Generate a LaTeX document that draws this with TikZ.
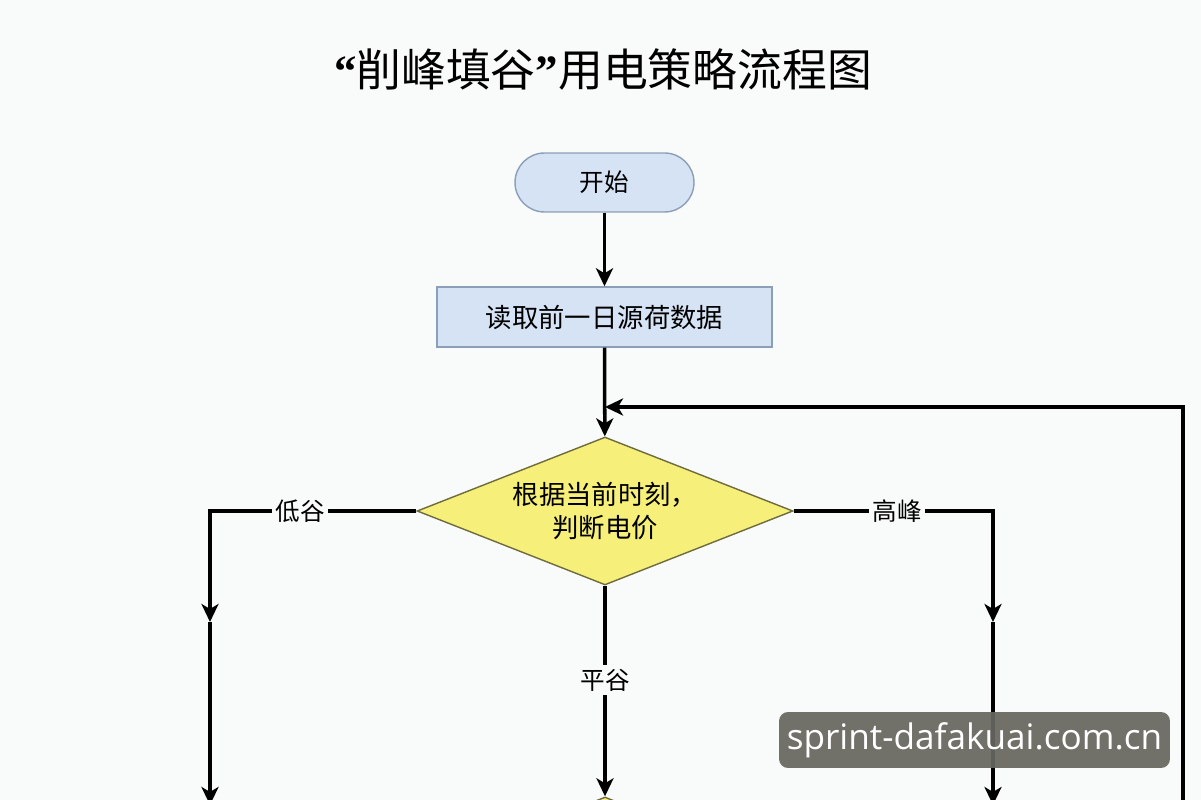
\documentclass[tikz,border=0pt]{standalone}
\usepackage{fontspec}
\newfontfamily\cjk{Noto Sans CJK SC}
\newfontfamily\qfont{Liberation Serif}
\newfontfamily\wmfont{Open Sans}
\usetikzlibrary{shapes.geometric,arrows.meta}
\definecolor{bg}{HTML}{F8FBFA}
\definecolor{bluefill}{HTML}{D5E3F4}
\definecolor{blueline}{HTML}{8C9FB8}
\definecolor{yelfill}{HTML}{F6EF7A}
\definecolor{yelline}{HTML}{6E6C3C}
\definecolor{wmgray}{HTML}{676760}
\tikzset{
  conn/.style={line width=2pt, black},
  arr/.style={conn, -{Stealth[length=0.36cm, width=0.34cm, inset=0.1cm]}},
  startbox/.style={draw=blueline, fill=bluefill, line width=0.8pt, rounded corners=0.59cm,
    minimum width=3.58cm, minimum height=1.18cm, inner sep=0pt, font=\cjk\fontsize{14}{16}\selectfont},
  procbox/.style={draw=blueline, fill=bluefill, line width=0.8pt,
    minimum width=6.7cm, minimum height=1.2cm, inner sep=0pt, font=\cjk\fontsize{15}{18}\selectfont},
  decbox/.style={diamond, aspect=2.54, draw=yelline, fill=yelfill, line width=0.8pt,
    minimum width=7.52cm, minimum height=2.96cm, inner sep=0pt, align=center,
    font=\cjk\fontsize{15}{18.5}\selectfont},
  lbl/.style={fill=bg, inner sep=2pt, font=\cjk\fontsize{14}{16}\selectfont},
}
\begin{document}
\begin{tikzpicture}[x=0.02cm, y=-0.02cm]
\useasboundingbox (0,0) rectangle (1201,800);
\clip (0,0) rectangle (1201,800);
\fill[bg] (0,0) rectangle (1201,800);

\node[font=\cjk\fontsize{25.5}{28}\selectfont] (title) at (603,70)
  {{\qfont\bfseries “}削峰填谷{\qfont\bfseries ”}用电策略流程图};

\node[startbox] (start) at (604.5,182.5) {开始};
\node[procbox] (read) at (604.5,317) {读取前一日源荷数据};
\node[decbox] (dec) at (605,511) {根据当前时刻，\\判断电价};
\node[decbox] (dec2) at (605,871) {};

\coordinate (merge) at (605,407);
\coordinate (loopTop) at (1183,407);
\coordinate (loopBot) at (1183,810);
\coordinate (lc) at (210,511);
\coordinate (lm) at (210,622);
\coordinate (lb) at (210,805);
\coordinate (rc) at (993,511);
\coordinate (rm) at (993,622);
\coordinate (rb) at (993,805);

\draw[arr] (start) -- (read);
\draw[arr] (read) -- (dec);
\draw[arr] (loopBot) -- (loopTop) -- (merge);

\draw[arr] (dec.west) -- (lc) -- (lm);
\draw[arr] (lm) -- (lb);
\draw[arr] (dec.east) -- (rc) -- (rm);
\draw[arr] (rm) -- (rb);
\draw[arr] (dec.south) -- (dec2.north);

\node[lbl] (low) at (300,511) {低谷};
\node[lbl] (high) at (897,511) {高峰};
\node[lbl] (flat) at (605,680) {平谷};

\node[fill=wmgray, fill opacity=0.93, text opacity=1, text=white, rounded corners=0.18cm,
  minimum width=7.82cm, minimum height=1.12cm, inner sep=0pt] (wm) at (974.5,740)
  {\wmfont\fontsize{20}{20}\selectfont sprint-dafakuai.com.cn};
\end{tikzpicture}
\end{document}
